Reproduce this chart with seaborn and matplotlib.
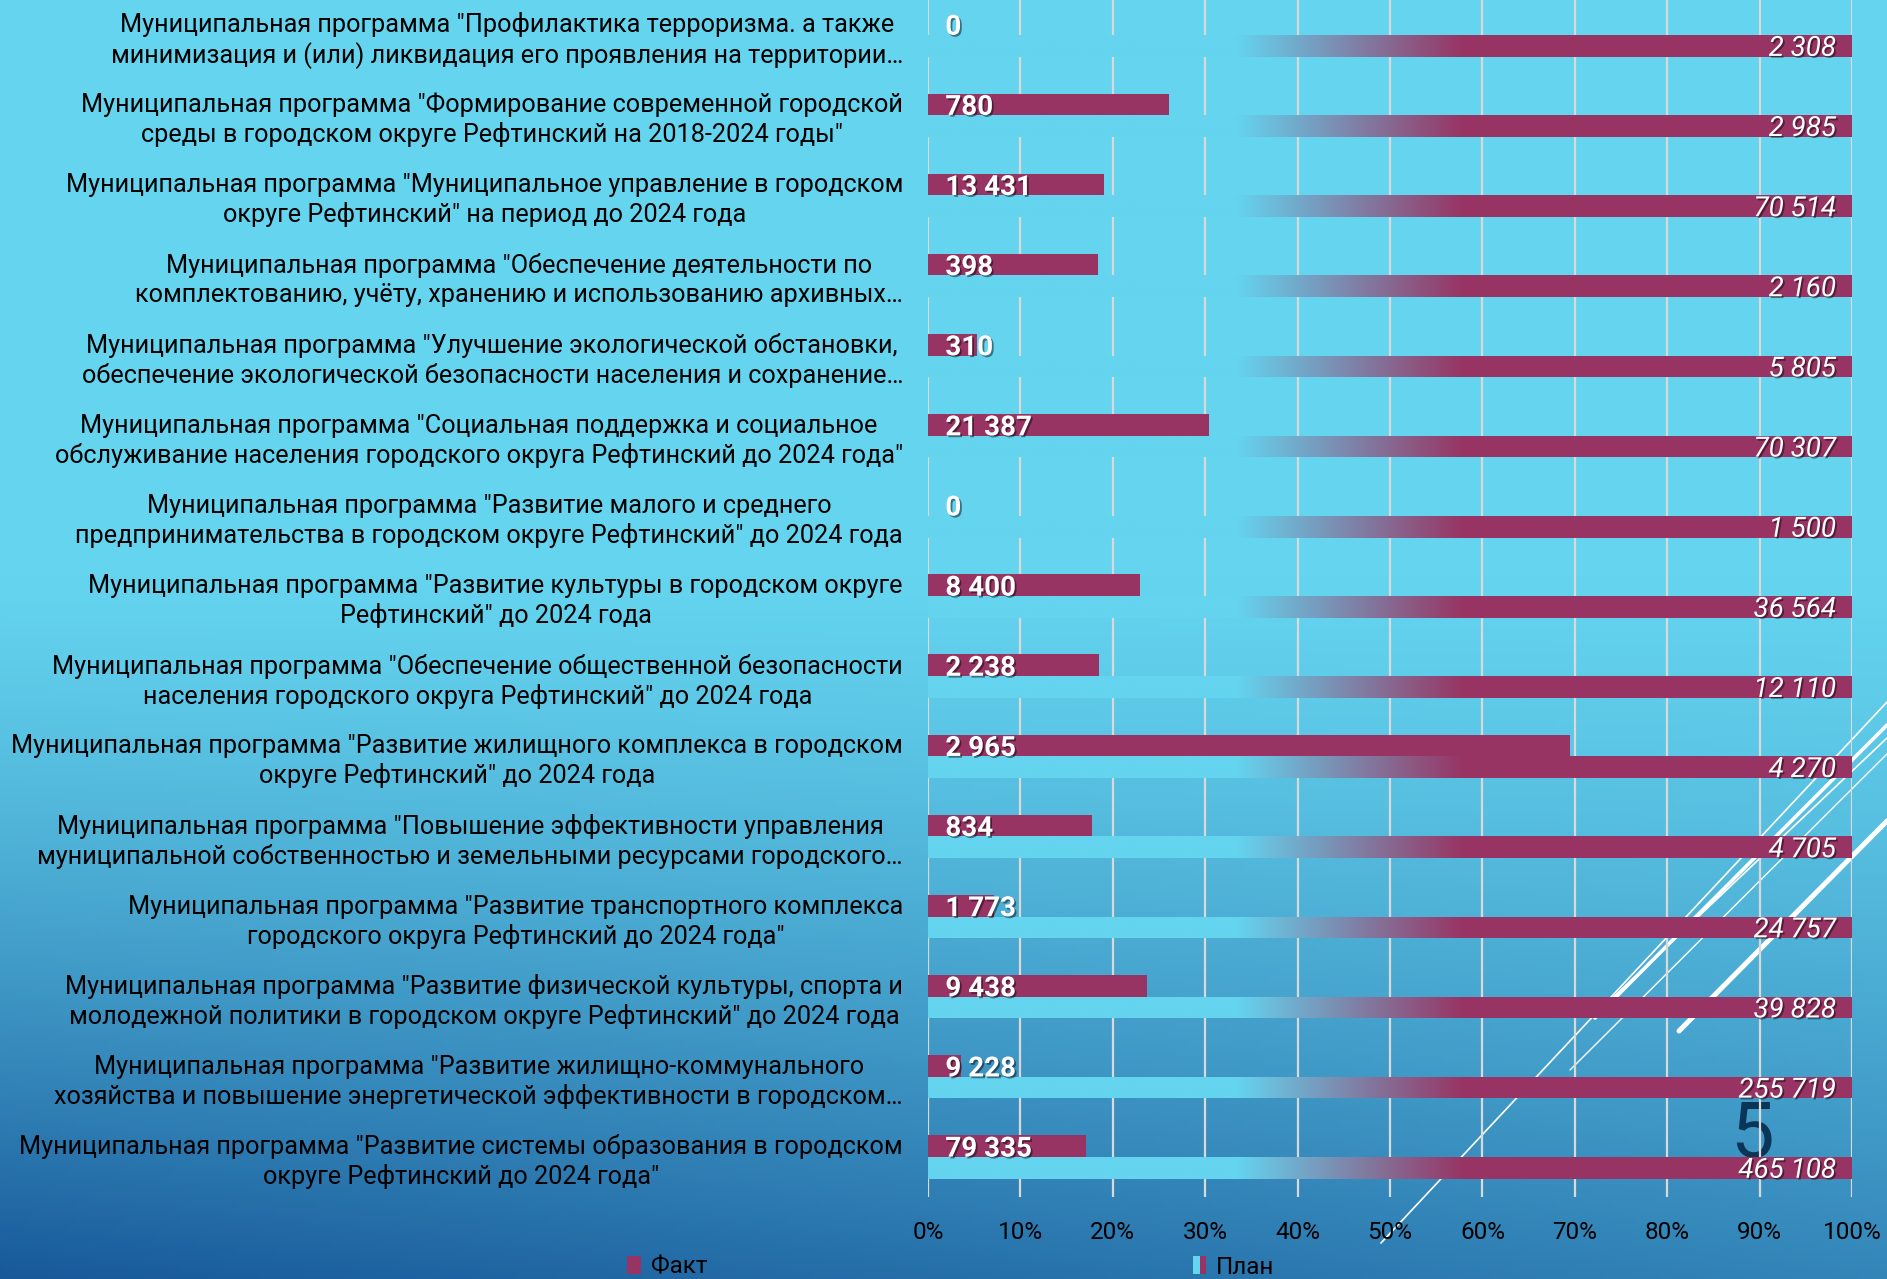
import numpy as np
import pandas as pd
import matplotlib
matplotlib.use("Agg")
import matplotlib.pyplot as plt
import matplotlib.patches as mpatches
from matplotlib import patheffects as pe
from matplotlib.legend_handler import HandlerTuple
from matplotlib.colors import to_rgb
import seaborn as sns

# ---------------- data ----------------
categories = [
    'Муниципальная программа "Профилактика терроризма. а также\nминимизация и (или) ликвидация его проявления на территории…',
    'Муниципальная программа "Формирование современной городской\nсреды в городском округе Рефтинский на 2018-2024 годы"',
    'Муниципальная программа "Муниципальное управление в городском\nокруге Рефтинский" на период до 2024 года',
    'Муниципальная программа "Обеспечение деятельности по\nкомплектованию, учёту, хранению и использованию архивных…',
    'Муниципальная программа "Улучшение экологической обстановки,\nобеспечение экологической безопасности населения и сохранение…',
    'Муниципальная программа "Социальная поддержка и социальное\nобслуживание населения городского округа Рефтинский до 2024 года"',
    'Муниципальная программа "Развитие малого и среднего\nпредпринимательства в городском округе Рефтинский" до 2024 года',
    'Муниципальная программа "Развитие культуры в городском округе\nРефтинский" до 2024 года',
    'Муниципальная программа "Обеспечение общественной безопасности\nнаселения городского округа Рефтинский" до 2024 года',
    'Муниципальная программа "Развитие жилищного комплекса в городском\nокруге Рефтинский" до 2024 года',
    'Муниципальная программа "Повышение эффективности управления\nмуниципальной собственностью и земельными ресурсами городского…',
    'Муниципальная программа "Развитие транспортного комплекса\nгородского округа Рефтинский до 2024 года"',
    'Муниципальная программа "Развитие физической культуры, спорта и\nмолодежной политики в городском округе Рефтинский" до 2024 года',
    'Муниципальная программа "Развитие жилищно-коммунального\nхозяйства и повышение энергетической эффективности в городском…',
    'Муниципальная программа "Развитие системы образования в городском\nокруге Рефтинский до 2024 года"',
]
fact_values = [0, 780, 13431, 398, 310, 21387, 0, 8400, 2238, 2965, 834, 1773, 9438, 9228, 79335]
plan_values = [2308, 2985, 70514, 2160, 5805, 70307, 1500, 36564, 12110, 4270, 4705, 24757, 39828, 255719, 465108]
series_names = ["Факт", "План"]
tick_values = [0, 10, 20, 30, 40, 50, 60, 70, 80, 90, 100]
tick_labels = ["0%", "10%", "20%", "30%", "40%", "50%", "60%", "70%", "80%", "90%", "100%"]

# ---------------- style ----------------
MAROON = "#983463"
CYAN = "#64D4EF"
DARK = "#18599A"
W, H = 1887, 1279

plt.rcParams["font.family"] = ["Roboto", "DejaVu Sans"]

fig = plt.figure(figsize=(W / 100, H / 100), dpi=100)

# background gradient
bg = fig.add_axes([0, 0, 1, 1], zorder=0)
bg.set_axis_off()
v = np.linspace(0, 1, 400)
u = np.linspace(0, 1, 300)
V, U = np.meshgrid(v, u)
t = np.clip((U - 0.45) / 0.55, 0, 1) ** 1.3 * (0.64 + 0.36 * (1 - V))
c0 = np.array(to_rgb(CYAN))
c1 = np.array(to_rgb(DARK))
img = c0[None, None, :] * (1 - t[..., None]) + c1[None, None, :] * t[..., None]
bg.imshow(img, extent=[0, 1, 0, 1], origin="upper", aspect="auto")
bg.set_xlim(0, 1)
bg.set_ylim(0, 1)

# decorative white lines (slide design)
deco = [
    ((1381, 1243), (1887, 702), 1.2),
    ((1595, 1018), (1887, 725), 2.6),
    ((1605, 1005), (1887, 738), 1.2),
    ((1570, 1070), (1887, 754), 1.0),
    ((1679, 1031), (1887, 821), 3.6),
]
for (x0, y0), (x1, y1), lw in deco:
    bg.plot([x0 / W, x1 / W], [1 - y0 / H, 1 - y1 / H], color="white", lw=lw,
            solid_capstyle="round")
bg.text(1752 / W, 1 - 1127 / H, "5", fontsize=56, fontweight="normal",
        color="#0B3556", ha="center", va="center_baseline")

# main axes
ax = fig.add_axes([928 / W, 1 - 1197 / H, 924 / W, 1202 / H], zorder=1)
ax.patch.set_alpha(0)

fact = np.array(fact_values, dtype=float)
plan = np.array(plan_values, dtype=float)
pct_fact = fact / plan * 100
df = pd.DataFrame({
    "cat": categories * 2,
    "series": [series_names[0]] * len(categories) + [series_names[1]] * len(categories),
    "pct": list(pct_fact) + [100.0] * len(categories),
})

sns.barplot(data=df, y="cat", x="pct", hue="series", hue_order=series_names,
            palette={series_names[0]: MAROON, series_names[1]: MAROON},
            orient="h", width=0.54, dodge=True, saturation=1, errorbar=None,
            legend=False, ax=ax, zorder=3)

# gradient fill of plan bars
xs = np.linspace(0, 100, 600)
s = np.clip((xs - 33.5) / (58 - 33.5), 0, 1)
cm = np.array(to_rgb(MAROON))
grad = (c0[None, :] * (1 - s[:, None]) + cm[None, :] * s[:, None])[None, :, :]
for bar in ax.containers[1]:
    y = bar.get_y()
    h = bar.get_height()
    im = ax.imshow(grad, extent=[0, bar.get_width(), y + h, y], aspect="auto", zorder=3)
    im.set_clip_path(bar)
    bar.set_facecolor("none")
    bar.set_edgecolor("none")
for bar in ax.containers[0]:
    bar.set_linewidth(0)

ax.set_xlim(0, 100)
ax.set_ylim(len(categories) - 0.5, -0.5)
ax.set_aspect("auto")

# grid / axes
ax.set_axisbelow(True)
ax.grid(axis="x", color="#D9D9D9", lw=1.6, zorder=0)
ax.grid(axis="y", visible=False)
for sp in ax.spines.values():
    sp.set_visible(False)
ax.set_xticks(tick_values)
ax.set_xticklabels(tick_labels, fontsize=17.5, color="black")
ax.tick_params(axis="x", length=0, pad=17)
ax.tick_params(axis="y", length=0, pad=18)
ax.set_yticks(range(len(categories)))
ax.set_yticklabels(categories, fontsize=18.2, color="black")
for lbl in ax.get_yticklabels():
    lbl.set_multialignment("center")
    lbl.set_linespacing(1.25)
ax.set_xlabel("")
ax.set_ylabel("")

shadow = [pe.SimplePatchShadow(offset=(1.3, -1.3), shadow_rgbFace="black", alpha=0.45), pe.Normal()]


def fmt(val):
    return f"{int(val):,}".replace(",", " ")


for i in range(len(categories)):
    ax.annotate(fmt(fact_values[i]), xy=(0, i - 0.135), xytext=(12.5, 0),
                textcoords="offset points", ha="left", va="center_baseline",
                color="white", fontsize=20, fontweight="bold",
                path_effects=shadow, zorder=6)
    ax.annotate(fmt(plan_values[i]), xy=(100, i + 0.135), xytext=(-11.5, 0),
                textcoords="offset points", ha="right", va="center_baseline",
                color="white", fontsize=20, style="italic",
                path_effects=shadow, zorder=6)

# legend
handles = [mpatches.Patch(facecolor=MAROON),
           (mpatches.Patch(facecolor=CYAN), mpatches.Patch(facecolor=MAROON))]
fig.legend(handles, series_names, handler_map={tuple: HandlerTuple(ndivide=None, pad=0)},
           ncol=2, loc="center", bbox_to_anchor=(951 / W, 1 - 1267 / H),
           frameon=False, fontsize=17.5, handlelength=0.55, handleheight=0.7,
           handletextpad=0.4, columnspacing=20.0)

fig.savefig("out.png", dpi=100)
